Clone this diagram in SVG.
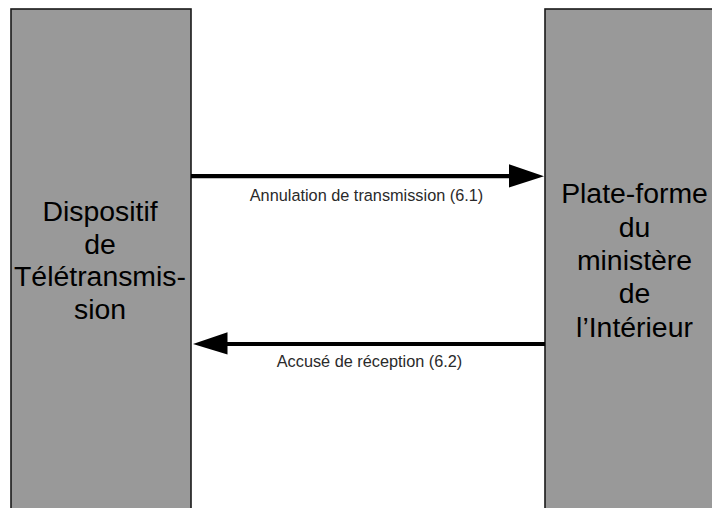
<svg xmlns="http://www.w3.org/2000/svg" width="712" height="508" viewBox="0 0 712 508">
<defs>
<style>
.box{fill:#999999;stroke:#1a1a1a;stroke-width:1.6}
.big{font-family:"Liberation Sans",Arial,sans-serif;font-size:28.4px;fill:#000;text-anchor:middle}
.lbl{font-family:"Liberation Sans",Arial,sans-serif;font-size:16.3px;fill:#2a2a2a;text-anchor:middle}
.ln{stroke:#000;stroke-width:4.2;fill:none}
.hd{fill:#000}
</style>
</defs>
<rect width="712" height="508" fill="#fff"/>
<g id="node-dispositif">
<rect class="box" x="11" y="9" width="180" height="510"/>
<text class="big" x="100" y="221">Dispositif</text>
<text class="big" x="100" y="253.5">de</text>
<text class="big" x="100" y="286">Télétransmis-</text>
<text class="big" x="100" y="318.5">sion</text>
</g>
<g id="node-plateforme">
<rect class="box" x="545" y="9" width="180" height="510"/>
<text class="big" x="634.5" y="203">Plate-forme</text>
<text class="big" x="634.5" y="236.5">du</text>
<text class="big" x="634.5" y="270">ministère</text>
<text class="big" x="634.5" y="303">de</text>
<text class="big" x="634.5" y="336.5">l’Intérieur</text>
</g>
<g id="connectors">
<line class="ln" x1="191" y1="176.2" x2="512" y2="176.2"/>
<polygon class="hd" points="509,164.3 544,176.2 509,187.5"/>
<text class="lbl" x="366.5" y="201">Annulation de transmission (6.1)</text>
<line class="ln" x1="225" y1="344" x2="545" y2="344"/>
<polygon class="hd" points="227.5,332.3 193,344 227.5,354.5"/>
<text class="lbl" x="369.5" y="367">Accusé de réception (6.2)</text>
</g>
</svg>
